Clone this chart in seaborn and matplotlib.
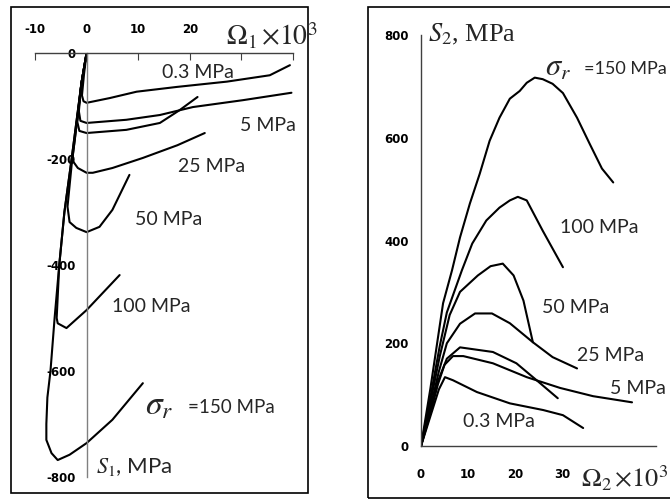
import numpy as np
import pandas as pd
import seaborn as sns
import matplotlib.pyplot as plt
from matplotlib.patches import Rectangle

# curve names (confining pressure)
curves = ["0.3", "5", "10", "25", "50", "100", "150"]

# left panel: Omega_1 x 1e3 vs S_1 (MPa)
om1_03 = [0, -0.5, -0.9, -0.6, 0, 4.5, 9.7, 17.5, 27.2, 35.5, 39.4]
s1_03 = [0, -40, -80, -91, -94, -85, -73, -64, -54, -42, -23]
om1_5 = [0, -1.0, -1.5, -1.2, 0, 7.7, 14.2, 20.6, 30.3, 39.7]
s1_5 = [0, -57, -110, -128, -132, -126, -117, -102, -89, -75]
om1_10 = [0, -1.0, -1.8, -1.4, 0, 7.7, 14.2, 18.0, 21.5]
s1_10 = [0, -57, -130, -147, -151, -145, -132, -108, -83]
om1_25 = [0, -1.0, -2.3, -2.8, -1.7, 0, 1.2, 5.0, 10.9, 17.6, 22.9]
s1_25 = [0, -57, -164, -202, -217, -226, -226, -217, -198, -174, -151]
om1_50 = [0, -1.0, -2.3, -2.9, -3.7, -3.3, -2.0, 0, 2.5, 5.0, 8.3]
s1_50 = [0, -57, -164, -211, -290, -319, -330, -338, -328, -296, -230]
om1_100 = [0, -1.0, -2.9, -4.3, -5.3, -5.8, -5.6, -3.9, 0, 6.4]
s1_100 = [0, -57, -200, -300, -400, -500, -510, -519, -485, -419]
om1_150 = [0, -1.0, -2.9, -4.3, -5.3, -6.2, -7.0, -7.6, -7.8, -7.8, -6.8, -5.6, -3.3, 0, 5.0, 10.9]
s1_150 = [0, -57, -200, -300, -400, -500, -600, -650, -700, -730, -755, -768, -758, -736, -692, -623]

# right panel: Omega_2 x 1e3 vs S_2 (MPa)
om2_03 = [0, 2.0, 3.8, 5.1, 6.8, 11.9, 18.9, 26.0, 30.2, 34.5]
s2_03 = [0, 58, 110, 134, 128, 105, 83, 70, 60, 35]
om2_5 = [0, 2.0, 3.6, 5.0, 6.8, 9.0, 15.3, 22.5, 29.6, 36.6, 44.9]
s2_5 = [0, 64, 120, 158, 175, 175, 161, 134, 113, 97, 85]
om2_10 = [0, 2.0, 3.6, 5.5, 8.3, 15.3, 20.3, 24.6, 29.1]
s2_10 = [0, 68, 126, 170, 192, 183, 161, 128, 93]
om2_25 = [0, 2.0, 3.8, 5.5, 8.3, 11.5, 15.1, 18.9, 23.8, 28.0, 33.2]
s2_25 = [0, 75, 145, 200, 238, 258, 258, 239, 202, 173, 151]
om2_50 = [0, 2.0, 4.0, 6.1, 8.3, 12.1, 14.8, 17.4, 19.7, 21.8, 23.8]
s2_50 = [0, 85, 175, 255, 300, 332, 350, 355, 332, 283, 202]
om2_100 = [0, 2.0, 4.0, 5.5, 8.7, 10.9, 13.9, 16.7, 18.9, 20.6, 22.5, 25.9, 30.2]
s2_100 = [0, 95, 195, 260, 342, 394, 439, 464, 478, 485, 478, 419, 348]
om2_150 = [0, 2.0, 4.7, 6.6, 8.3, 10.4, 12.5, 14.6, 16.7, 18.9, 21.0, 22.5, 24.2,
           25.9, 28.0, 30.2, 33.2, 35.9, 38.5, 40.9]
s2_150 = [0, 112, 278, 342, 406, 472, 530, 594, 639, 676, 691, 707, 717,
          714, 705, 687, 639, 588, 540, 513]

left_x = [om1_03, om1_5, om1_10, om1_25, om1_50, om1_100, om1_150]
left_y = [s1_03, s1_5, s1_10, s1_25, s1_50, s1_100, s1_150]
right_x = [om2_03, om2_5, om2_10, om2_25, om2_50, om2_100, om2_150]
right_y = [s2_03, s2_5, s2_10, s2_25, s2_50, s2_100, s2_150]


def make_df(xs, ys):
    parts = []
    for name, x, y in zip(curves, xs, ys):
        parts.append(pd.DataFrame({"omega": x, "s": y, "curve": name}))
    return pd.concat(parts, ignore_index=True)


df_left = make_df(left_x, left_y)
df_right = make_df(right_x, right_y)

sns.set_theme(style="white")
plt.rcParams["mathtext.fontset"] = "stix"
plt.rcParams["axes.unicode_minus"] = False

fig = plt.figure(figsize=(6.7, 5), dpi=100)
fig.patch.set_facecolor("white")

# panel frames
fig.add_artist(Rectangle((11 / 670, 7 / 500), 297 / 670, 486 / 500, transform=fig.transFigure,
                         fill=False, lw=1.2, ec="black"))
fig.add_artist(Rectangle((368 / 670, 2 / 500), 310 / 670, 491 / 500, transform=fig.transFigure,
                         fill=False, lw=1.2, ec="black"))

palette = {c: "black" for c in curves}
tick_font = dict(family="DejaVu Sans", weight="bold", size=8.5)
lab_font = dict(family="Lato", size=14)

# ---------------- left panel ----------------
ax1 = fig.add_axes([35 / 670, 23 / 500, 258 / 670, 424 / 500])
sns.lineplot(data=df_left, x="omega", y="s", hue="curve", palette=palette, sort=False,
             estimator=None, legend=False, lw=1.5, ax=ax1)
ax1.set_xlim(-10, 40)
ax1.set_ylim(-800, 0)
ax1.set_xlabel("")
ax1.set_ylabel("")
ax1.patch.set_alpha(0)
for side in ["right", "bottom"]:
    ax1.spines[side].set_visible(False)
ax1.spines["left"].set_position(("data", 0))
ax1.spines["left"].set_color("#808080")
ax1.spines["top"].set_color("#404040")
ax1.spines["left"].set_linewidth(1.0)
ax1.spines["top"].set_linewidth(1.0)
ax1.xaxis.tick_top()
ax1.set_xticks([-10, 0, 10, 20, 30, 40])
ax1.set_xticklabels(["-10", "0", "10", "20", "", ""], fontdict=tick_font)
ax1.set_yticks([-800, -600, -400, -200, 0])
ax1.set_yticklabels(["-800", "-600", "-400", "-200", "0"], fontdict=tick_font)
ax1.tick_params(axis="x", direction="in", length=5, width=0.8, pad=12, colors="#404040",
                labelcolor="black")
ax1.tick_params(axis="y", direction="out", length=5, width=0.8, pad=3, colors="#808080",
                labelcolor="black")

ax1.text(14.7, -36, "0.3 MPa", va="center", ha="left", **lab_font)
ax1.text(29.7, -136, "5 MPa", va="center", ha="left", **lab_font)
ax1.text(17.7, -214, "25 MPa", va="center", ha="left", **lab_font)
ax1.text(9.3, -315, "50 MPa", va="center", ha="left", **lab_font)
ax1.text(5.0, -479, "100 MPa", va="center", ha="left", **lab_font)
ax1.text(11.4, -664, r"$\sigma_r$", va="center", ha="left", size=24)
ax1.text(19.6, -668, "=150 MPa", va="center", ha="left", family="Lato", size=13.5)
ax1.text(1.9, -781, r"$S_1$, MPa", va="center", ha="left", family="Lato", size=16,
         clip_on=False)
ax1.text(27.0, 31, r"$\Omega_1\,{\times}10^3$", va="center", ha="left", size=20,
         clip_on=False)

# ---------------- right panel ----------------
ax2 = fig.add_axes([421 / 670, 54 / 500, 235 / 670, 411 / 500])
sns.lineplot(data=df_right, x="omega", y="s", hue="curve", palette=palette, sort=False,
             estimator=None, legend=False, lw=1.5, ax=ax2)
ax2.set_xlim(0, 50)
ax2.set_ylim(0, 800)
ax2.set_xlabel("")
ax2.set_ylabel("")
ax2.patch.set_alpha(0)
for side in ["right", "top"]:
    ax2.spines[side].set_visible(False)
for side in ["left", "bottom"]:
    ax2.spines[side].set_color("#404040")
    ax2.spines[side].set_linewidth(1.0)
ax2.set_xticks([0, 10, 20, 30, 40, 50])
ax2.set_xticklabels(["0", "10", "20", "30", "", ""], fontdict=tick_font)
ax2.set_yticks([0, 200, 400, 600, 800])
ax2.set_yticklabels(["0", "200", "400", "600", "800"], fontdict=tick_font)
ax2.tick_params(axis="y", direction="out", length=4, width=0.8, pad=5, colors="#404040",
                labelcolor="black")
ax2.tick_params(axis="x", direction="out", length=4, width=0.8, pad=12, colors="#404040",
                labelcolor="black")

ax2.text(29.6, 425, "100 MPa", va="center", ha="left", **lab_font)
ax2.text(25.7, 270, "50 MPa", va="center", ha="left", **lab_font)
ax2.text(33.2, 177, "25 MPa", va="center", ha="left", **lab_font)
ax2.text(40.2, 111, "5 MPa", va="center", ha="left", **lab_font)
ax2.text(8.9, 47, "0.3 MPa", va="center", ha="left", **lab_font)
ax2.text(26.4, 736, r"$\sigma_r$", va="center", ha="left", size=22, clip_on=False)
ax2.text(34.6, 734, "=150 MPa", va="center", ha="left", family="Lato", size=13,
         clip_on=False)
ax2.text(1.5, 802, r"$S_2$, MPa", va="center", ha="left", family="Liberation Serif",
         size=19, clip_on=False)
ax2.text(34.0, -64, r"$\Omega_2\,{\times}10^3$", va="center", ha="left", size=19,
         clip_on=False)

fig.savefig("out.png", dpi=100, facecolor="white")
